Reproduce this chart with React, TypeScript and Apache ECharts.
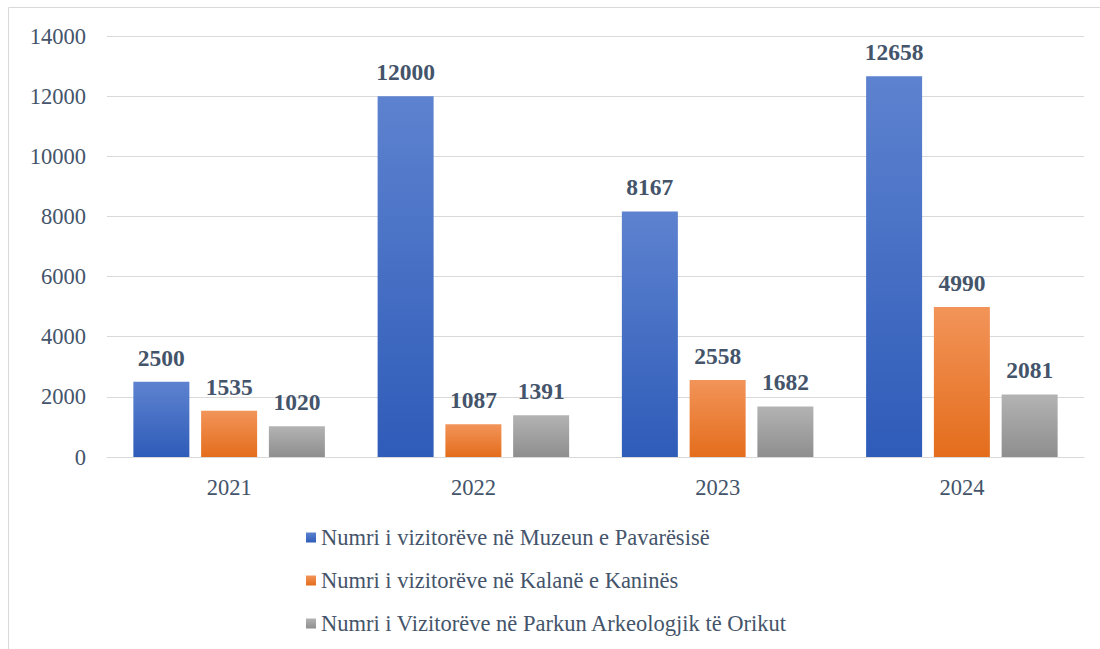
import React, { useEffect, useRef } from "react";
import * as echarts from "echarts";

const categories = ["2021", "2022", "2023", "2024"];
const seriesNames = [
  "Numri i vizitorëve në Muzeun e Pavarësisë",
  "Numri i vizitorëve në Kalanë e Kaninës",
  "Numri i Vizitorëve në Parkun Arkeologjik të Orikut",
];
const muzeu = [2500, 12000, 8167, 12658];
const kalaja = [1535, 1087, 2558, 4990];
const parku = [1020, 1391, 1682, 2081];
const yTicks = { min: 0, max: 14000, interval: 2000 };

const FONT = "'Liberation Serif', 'Times New Roman', serif";
const TEXT = "#44546a";

const grad = (top: string, bottom: string) =>
  new echarts.graphic.LinearGradient(0, 0, 0, 1, [
    { offset: 0, color: top },
    { offset: 1, color: bottom },
  ]);

export default function App() {
  const ref = useRef<HTMLDivElement>(null);
  useEffect(() => {
    if (!ref.current) return;
    const chart = echarts.init(ref.current, undefined, { renderer: "svg" });
    const label = {
      show: true,
      position: "top",
      distance: 12,
      fontFamily: FONT,
      fontSize: 23.5,
      fontWeight: "bold",
      color: TEXT,
    };
    const datasets = [muzeu, kalaja, parku];
    const colors = [
      ["#5d82cf", "#2f5cb9"],
      ["#f29459", "#e46d1c"],
      ["#b3b3b3", "#8e8e8e"],
    ];
    chart.setOption({
      animation: false,
      graphic: [
        {
          type: "rect",
          shape: { x: 8.5, y: 7.5, width: 1200, height: 800 },
          style: { fill: "none", stroke: "#d9d9d9", lineWidth: 1 },
          silent: true,
        },
      ],
      grid: { left: 107, right: 16, top: 36, bottom: 192 },
      xAxis: {
        type: "category",
        data: categories,
        axisLine: { lineStyle: { color: "#d9d9d9", width: 1 } },
        axisTick: { show: false },
        axisLabel: { fontFamily: FONT, fontSize: 22.5, color: TEXT, margin: 19 },
      },
      yAxis: {
        type: "value",
        min: yTicks.min,
        max: yTicks.max,
        interval: yTicks.interval,
        axisLine: { show: false },
        axisTick: { show: false },
        splitLine: { lineStyle: { color: "#d9d9d9", width: 1 } },
        axisLabel: {
          fontFamily: FONT,
          fontSize: 22.5,
          color: TEXT,
          margin: 21,
          formatter: (v: number) => String(v),
        },
      },
      legend: {
        orient: "vertical",
        left: 306,
        top: 526,
        padding: 0,
        itemWidth: 10,
        itemHeight: 10,
        itemGap: 20,
        icon: "rect",
        textStyle: { fontFamily: FONT, fontSize: 22.5, color: TEXT, lineHeight: 22 },
        data: seriesNames,
      },
      series: datasets.map((d, i) => ({
        name: seriesNames[i],
        type: "bar",
        data: d,
        barWidth: 56,
        barGap: "21%",
        itemStyle: { color: grad(colors[i][0], colors[i][1]) },
        label,
      })),
    });
    return () => chart.dispose();
  }, []);
  return (
    <div
      ref={ref}
      style={{ position: "fixed", left: 0, top: 0, width: 1100, height: 649, background: "#fff" }}
    />
  );
}
